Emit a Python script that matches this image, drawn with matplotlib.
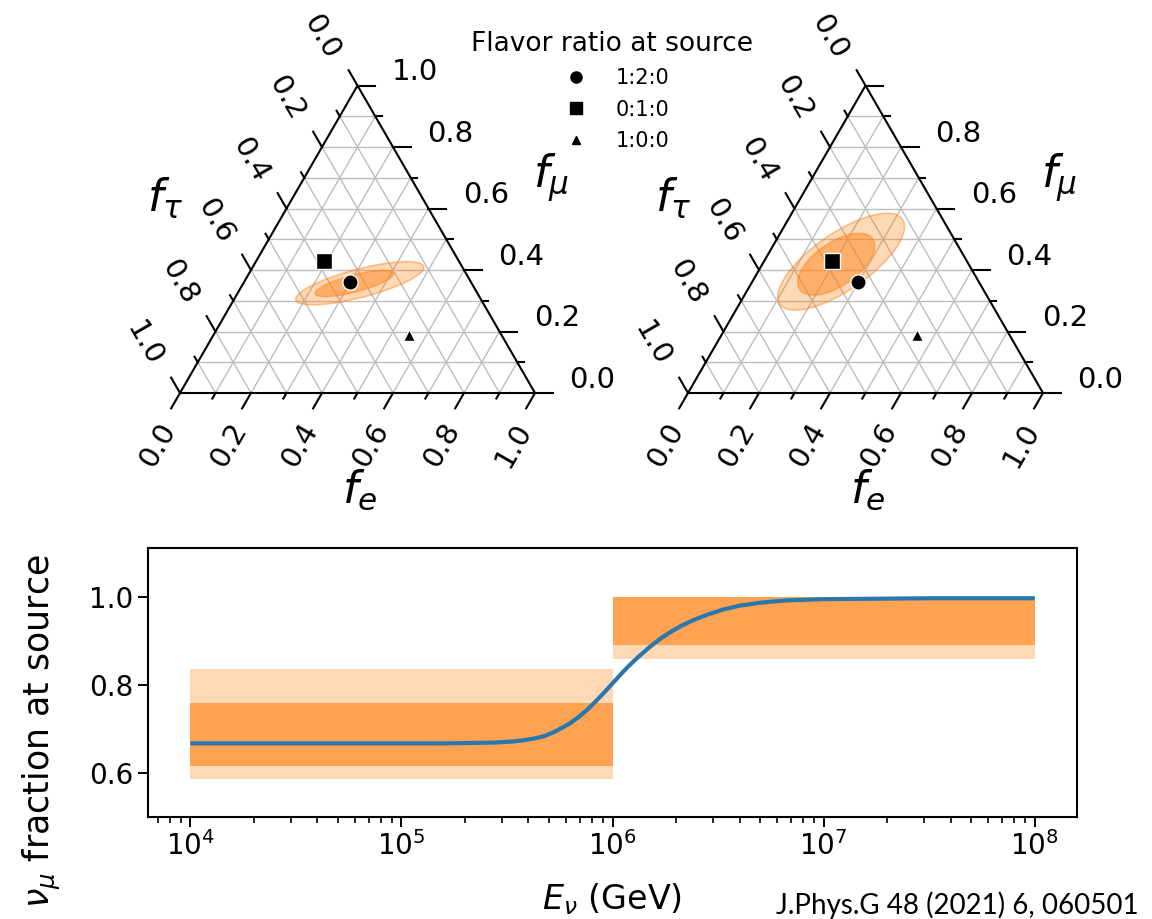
"""
Flavor composition at Earth (ternary) and nu_mu fraction at source vs energy
"""
import numpy as np
import matplotlib.pyplot as plt
from matplotlib.patches import Ellipse
from matplotlib.lines import Line2D

# ---- data ----
# flavor ratios at Earth for each source ratio (f_e, f_mu)
source_labels = ['1:2:0', '0:1:0', '1:0:0']
earth_fe = [0.30, 0.19, 0.55]
earth_fmu = [0.36, 0.43, 0.19]

# contours: center f_e, center f_mu, semi-major, semi-minor, angle (deg)
left_outer = [0.328, 0.357, 0.186, 0.040, 14.6]
left_inner = [0.313, 0.356, 0.114, 0.024, 14.6]
right_outer = [0.218, 0.427, 0.210, 0.080, 34.7]
right_inner = [0.208, 0.419, 0.125, 0.061, 34.7]

tick_vals = [0.0, 0.1, 0.2, 0.3, 0.4, 0.5, 0.6, 0.7, 0.8, 0.9, 1.0]
tick_labels = ['0.0', '', '0.2', '', '0.4', '', '0.6', '', '0.8', '', '1.0']

# energy bins and nu_mu fraction bands
bin_lo = [1e4, 1e6]
bin_hi = [1e6, 1e8]
band68_lo = [0.616, 0.891]
band68_hi = [0.759, 1.0]
band95_lo = [0.586, 0.859]
band95_hi = [0.836, 1.0]

# model curve
curve_logE = [4.0, 4.5, 5.0, 5.20, 5.35, 5.45, 5.52, 5.58, 5.63, 5.68, 5.72,
              5.76, 5.80, 5.84, 5.88, 5.92, 5.96, 6.00, 6.04, 6.08, 6.12,
              6.17, 6.22, 6.27, 6.32, 6.38, 6.45, 6.52, 6.60, 6.70, 6.82,
              7.0, 7.5, 8.0]
curve_frac = [0.667, 0.667, 0.667, 0.667, 0.668, 0.669, 0.671, 0.674, 0.678,
              0.684, 0.692, 0.702, 0.713, 0.727, 0.743, 0.762, 0.782, 0.803,
              0.824, 0.844, 0.862, 0.883, 0.902, 0.918, 0.932, 0.946, 0.959,
              0.970, 0.979, 0.986, 0.991, 0.994, 0.996, 0.996]

W, H = 1152, 919
S3 = np.sqrt(3) / 2
orange = '#ff7f0e'

fig = plt.figure(figsize=(W / 100, H / 100), dpi=100)


def to_xy(fe, fmu):
    return fe + fmu / 2, fmu * S3


def draw_ternary(left_px, outer, inner, top_label=True):
    s = 355
    x0, x1, y0, y1 = -0.45, 1.30, -0.42, 1.05
    ax = fig.add_axes([(left_px + x0 * s) / W, (526 + y0 * s) / H,
                       (x1 - x0) * s / W, (y1 - y0) * s / H])
    ax.set_xlim(x0, x1)
    ax.set_ylim(y0, y1)
    ax.axis('off')

    # grid
    for v in tick_vals[1:-1]:
        segs = [(to_xy(v, 0), to_xy(v, 1 - v)),
                (to_xy(0, v), to_xy(1 - v, v)),
                (to_xy(0, 1 - v), to_xy(1 - v, 0))]
        for a, b in segs:
            ax.plot([a[0], b[0]], [a[1], b[1]], color='#bdbdbd', lw=1.0, zorder=1)

    # border
    corners = [to_xy(0, 0), to_xy(1, 0), to_xy(0, 1), to_xy(0, 0)]
    ax.plot([c[0] for c in corners], [c[1] for c in corners], color='k', lw=1.5, zorder=3)

    # ticks and labels
    for v, lab in zip(tick_vals, tick_labels):
        ln = 0.05 if lab else 0.018
        # bottom: f_e
        px, py = to_xy(v, 0)
        ax.plot([px, px - 0.5 * ln], [py, py - S3 * ln], color='k', lw=1.5)
        if lab:
            ax.text(px - 0.062, py - 0.146, lab, rotation=60, fontsize=21,
                    ha='center', va='center')
        # right: f_mu
        px, py = to_xy(1 - v, v)
        ax.plot([px, px + ln], [py, py], color='k', lw=1.5)
        if lab and (top_label or v < 1.0):
            ax.text(px + 0.162, py + 0.037, lab, fontsize=21, ha='center', va='center')
        # left: f_tau
        px, py = to_xy(0, 1 - v)
        ax.plot([px, px - 0.5 * ln], [py, py + S3 * ln], color='k', lw=1.5)
        if lab:
            ax.text(px - 0.100, py + 0.138, lab, rotation=-60, fontsize=21,
                    ha='center', va='center')

    ax.text(-0.042, 0.549, r'$f_\tau$', fontsize=32, ha='center', va='center')
    ax.text(1.045, 0.606, r'$f_\mu$', fontsize=32, ha='center', va='center')
    ax.text(0.507, -0.273, r'$f_e$', fontsize=32, ha='center', va='center')

    # contours
    for par, alpha in [(outer, 0.3), (inner, 0.45)]:
        cx, cy = to_xy(par[0], par[1])
        ax.add_patch(Ellipse((cx, cy), 2 * par[2], 2 * par[3], angle=par[4],
                             facecolor=orange, alpha=alpha, edgecolor='none', zorder=4))
        ax.add_patch(Ellipse((cx, cy), 2 * par[2], 2 * par[3], angle=par[4],
                             facecolor='none', edgecolor=orange, alpha=0.45,
                             lw=1.2, zorder=4))

    # source points
    for fe, fmu, m, ms in zip(earth_fe, earth_fmu, ['o', 's', '^'], [11, 11, 8]):
        x, y = to_xy(fe, fmu)
        ax.plot(x, y, marker=m, ms=ms, color='k', mec='white', mew=1.0, zorder=6)
    return ax


draw_ternary(180, left_outer, left_inner, top_label=True)
draw_ternary(688, right_outer, right_inner, top_label=False)

handles = [Line2D([], [], marker=m, color='k', ls='none', ms=ms)
           for m, ms in zip(['o', 's', '^'], [8, 8, 6])]
fig.legend(handles, source_labels, title='Flavor ratio at source',
           loc='upper center', bbox_to_anchor=(612 / W, 1 - 12 / H),
           frameon=False, fontsize=15, title_fontsize=19, labelspacing=0.55,
           handletextpad=0.9)

# ---- bottom panel ----
ax3 = fig.add_axes([148 / W, 102 / H, 929 / W, 269 / H])
for i in range(len(bin_lo)):
    ax3.fill_between([bin_lo[i], bin_hi[i]], band95_lo[i], band95_hi[i],
                     color=orange, alpha=0.3, lw=0)
    ax3.fill_between([bin_lo[i], bin_hi[i]], band68_lo[i], band68_hi[i],
                     color=orange, alpha=0.6, lw=0)
ax3.plot(10 ** np.array(curve_logE), curve_frac, color='#2a77ad', lw=3,
         solid_capstyle='butt')
ax3.set_xscale('log')
ax3.set_xlim(10 ** 3.8, 10 ** 8.2)
ax3.set_ylim(0.5, 1.11)
ax3.set_yticks([0.6, 0.8, 1.0])
ax3.set_yticklabels(['0.6', '0.8', '1.0'])
ax3.tick_params(labelsize=20, width=1.4, length=7)
ax3.tick_params(which='minor', width=1.2, length=4)
for sp in ax3.spines.values():
    sp.set_linewidth(1.5)
ax3.set_xlabel(r'$E_\nu$ (GeV)', fontsize=24)
ax3.xaxis.set_label_coords(0.5, -0.24)
ax3.set_ylabel(r'$\nu_\mu$ fraction at source', fontsize=25)
ax3.yaxis.set_label_coords(-0.092, 0.32)

fig.text(776 / W, 1 - 905 / H, 'J.Phys.G 48 (2021) 6, 060501',
         fontfamily='Lato', fontsize=20, va='center', ha='left')

fig.savefig('out.png', dpi=100)
